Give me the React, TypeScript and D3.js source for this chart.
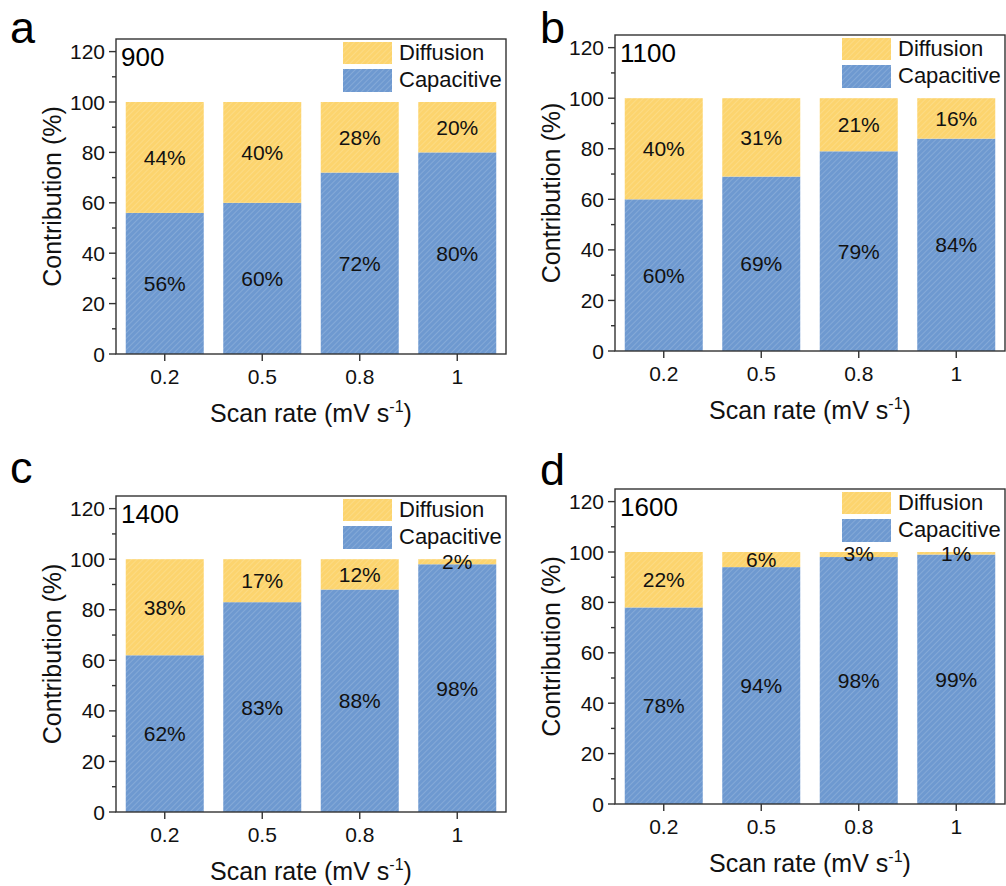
import * as d3 from "d3";

const SCAN_RATES = ["0.2", "0.5", "0.8", "1"];
const TEMPS = ["900", "1100", "1400", "1600"];
const PANEL_LETTERS = ["a", "b", "c", "d"];

// capacitive / diffusion contribution (%) per scan rate
const CAP_900 = [56, 60, 72, 80];
const DIFF_900 = [44, 40, 28, 20];
const CAP_1100 = [60, 69, 79, 84];
const DIFF_1100 = [40, 31, 21, 16];
const CAP_1400 = [62, 83, 88, 98];
const DIFF_1400 = [38, 17, 12, 2];
const CAP_1600 = [78, 94, 98, 99];
const DIFF_1600 = [22, 6, 3, 1];

const Y_MAJOR = [0, 20, 40, 60, 80, 100, 120];
const Y_MINOR = [10, 30, 50, 70, 90, 110];

const FONT = "'Liberation Sans', Arial, sans-serif";
const AXIS = "#333";
const YELLOW = "#fcd46e";
const BLUE = "#6e99d0";

const CAPS = [CAP_900, CAP_1100, CAP_1400, CAP_1600];
const DIFFS = [DIFF_900, DIFF_1100, DIFF_1400, DIFF_1600];

// plot boxes in pixels
const BOXES = [
  { l: 116, r: 506, t: 39, b: 354, lx: 10, ly: 43 },
  { l: 615, r: 1005, t: 35, b: 351, lx: 540, ly: 43 },
  { l: 116, r: 506, t: 496, b: 812, lx: 10, ly: 483 },
  { l: 615, r: 1005, t: 489, b: 804, lx: 540, ly: 485 },
];

function Panel({ i }: { i: number }) {
  const { l, r, t, b, lx, ly } = BOXES[i];
  const cap = CAPS[i];
  const diff = DIFFS[i];
  const x = d3.scaleBand<string>().domain(SCAN_RATES).range([l, r]).paddingInner(0.2).paddingOuter(0.1);
  const y = d3.scaleLinear().domain([0, 125]).range([b, t]);
  const bw = x.bandwidth();

  return (
    <g fontFamily={FONT}>
      <text x={lx} y={ly} fontSize={45} fill="#000">{PANEL_LETTERS[i]}</text>

      {SCAN_RATES.map((s, k) => {
        const top = Math.min(100, cap[k] + diff[k]);
        return (
          <g key={s}>
            <rect x={x(s)} y={y(cap[k])} width={bw} height={y(0) - y(cap[k])} fill="url(#hatchBlue)" />
            <rect x={x(s)} y={y(top)} width={bw} height={y(cap[k]) - y(top)} fill="url(#hatchYellow)" />
            <text x={x(s)! + bw / 2} y={y(cap[k] / 2)} fontSize={21} textAnchor="middle" dominantBaseline="central" fill="#111">
              {cap[k]}%
            </text>
            <text x={x(s)! + bw / 2} y={y(cap[k] + diff[k] / 2)} fontSize={21} textAnchor="middle" dominantBaseline="central" fill="#111">
              {diff[k]}%
            </text>
          </g>
        );
      })}

      <rect x={l} y={t} width={r - l} height={b - t} fill="none" stroke={AXIS} strokeWidth={1.4} />

      {Y_MAJOR.map((v) => (
        <g key={v}>
          <line x1={l - 7} x2={l} y1={y(v)} y2={y(v)} stroke={AXIS} strokeWidth={1.4} />
          <text x={l - 11} y={y(v)} fontSize={21} textAnchor="end" dominantBaseline="central" fill="#111">{v}</text>
        </g>
      ))}
      {Y_MINOR.map((v) => (
        <line key={v} x1={l - 4} x2={l} y1={y(v)} y2={y(v)} stroke={AXIS} strokeWidth={1.4} />
      ))}
      {SCAN_RATES.map((s) => (
        <g key={s}>
          <line x1={x(s)! + bw / 2} x2={x(s)! + bw / 2} y1={b} y2={b + 7} stroke={AXIS} strokeWidth={1.4} />
          <text x={x(s)! + bw / 2} y={b + 30} fontSize={21} textAnchor="middle" fill="#111">{s}</text>
        </g>
      ))}

      <text x={l + 5} y={t + 27} fontSize={26} fill="#000">{TEMPS[i]}</text>

      <g>
        <rect x={l + 227} y={t + 3} width={49} height={22} fill="url(#hatchYellow)" />
        <text x={l + 283} y={t + 21} fontSize={22} fill="#111">Diffusion</text>
        <rect x={l + 227} y={t + 30} width={49} height={23} fill="url(#hatchBlue)" />
        <text x={l + 283} y={t + 48} fontSize={22} fill="#111">Capacitive</text>
      </g>

      <text
        transform={`translate(${l - 55},${(t + b) / 2}) rotate(-90)`}
        fontSize={25}
        textAnchor="middle"
        fill="#111"
      >
        Contribution (%)
      </text>
      <text x={(l + r) / 2} y={b + 68} fontSize={25} textAnchor="middle" fill="#111">
        Scan rate (mV s<tspan dy={-10} fontSize={16}>-1</tspan><tspan dy={10}>)</tspan>
      </text>
    </g>
  );
}

export default function App() {
  return (
    <svg width={1006} height={886} style={{ position: "absolute", left: 0, top: 0, background: "#fff" }}>
      <defs>
        <pattern id="hatchYellow" patternUnits="userSpaceOnUse" width={4} height={4} patternTransform="rotate(45)">
          <rect width={4} height={4} fill={YELLOW} />
          <line x1={0} y1={0} x2={0} y2={4} stroke="#fff" strokeOpacity={0.3} strokeWidth={1} />
        </pattern>
        <pattern id="hatchBlue" patternUnits="userSpaceOnUse" width={4} height={4} patternTransform="rotate(45)">
          <rect width={4} height={4} fill={BLUE} />
          <line x1={0} y1={0} x2={0} y2={4} stroke="#fff" strokeOpacity={0.3} strokeWidth={1} />
        </pattern>
      </defs>
      {[0, 1, 2, 3].map((i) => (
        <Panel key={i} i={i} />
      ))}
    </svg>
  );
}
